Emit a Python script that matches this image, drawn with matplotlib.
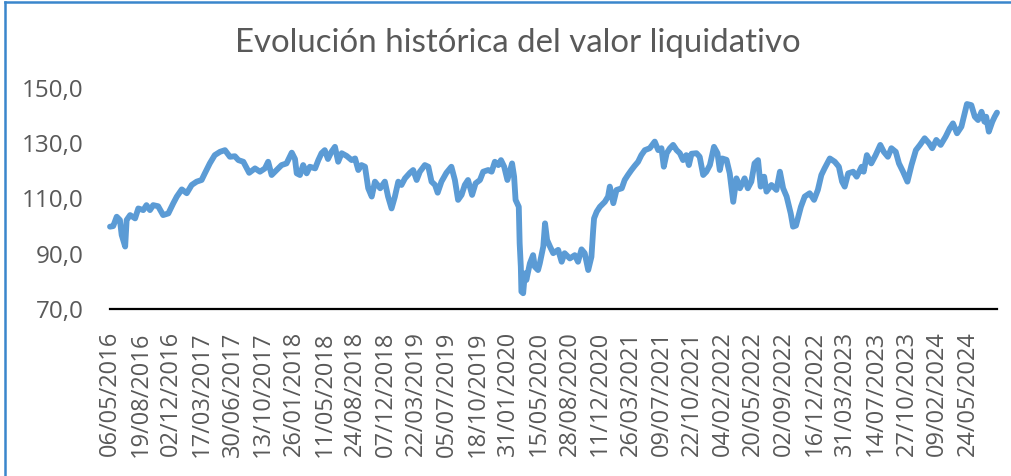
import pandas as pd
import matplotlib
matplotlib.use("Agg")
import matplotlib.pyplot as plt
from matplotlib.lines import Line2D

# -------------------------------
# DATOS
# -------------------------------
inicio = pd.Timestamp("2016-05-06")

# dias desde el 06/05/2016
dias = [
    0, 11, 23, 34, 40, 52, 57, 69, 86, 97, 114, 125, 137, 148, 165, 182, 200, 217, 229, 246,
    263, 280, 297, 314, 325, 342, 359, 377, 394, 411, 428, 440, 457, 477,
    497, 514, 531, 542, 554, 571, 588, 605, 623, 634, 640, 651, 662, 674, 685, 703, 714, 725,
    736, 747, 759, 771, 782, 794, 811, 828, 840, 851, 862, 874, 885, 897, 908, 926, 942, 953,
    965, 976,
    988, 999, 1011, 1028, 1039, 1051, 1062, 1079, 1091, 1102, 1114, 1123, 1136, 1153, 1170,
    1182, 1193, 1205, 1216, 1227, 1241, 1253, 1268, 1279, 1296, 1308, 1319, 1331, 1340, 1351,
    1362, 1370, 1378, 1385, 1390, 1401, 1404, 1408, 1410, 1416, 1422, 1427, 1439, 1450, 1456,
    1467,
    1473, 1485, 1491, 1498, 1508, 1519, 1536, 1548, 1558, 1576, 1593, 1604, 1616, 1627, 1639,
    1650, 1656, 1659, 1668, 1679, 1696, 1707, 1713, 1725, 1736, 1754, 1764, 1775, 1787, 1798,
    1810, 1821, 1833, 1850, 1867, 1879, 1890, 1898, 1908, 1919, 1930, 1942, 1953, 1964, 1975,
    1984,
    1993, 2010, 2021, 2033, 2044, 2056, 2070, 2082, 2090, 2098, 2113, 2124, 2136, 2147, 2159,
    2175, 2186, 2198, 2209, 2221, 2230, 2242, 2250, 2267, 2284, 2296, 2307, 2319, 2333, 2341,
    2351, 2359, 2368, 2381, 2398, 2413, 2426, 2438, 2449, 2467, 2484, 2498, 2509, 2518,
    2530, 2547, 2559, 2576, 2583, 2594, 2609, 2624, 2640, 2652, 2666, 2678, 2693, 2704, 2718,
    2733, 2747, 2762, 2776, 2792, 2807, 2818, 2832, 2847, 2864, 2878, 2889, 2903, 2918, 2929,
    2937, 2952, 2964, 2975, 2987, 2997, 3003, 3012, 3024, 3032, 3040,
]

valor = [
    99.8, 100.0, 103.4, 102.2, 96.8, 92.6, 102.2, 104.0, 102.8, 106.4, 105.8, 107.6, 105.8,
    107.6, 107.2, 104.0, 104.6, 108.3, 110.7, 113.3, 111.9, 114.9, 116.1, 116.7, 119.1, 122.7,
    125.7, 126.9, 127.5, 125.1, 125.3, 123.9, 123.3, 119.3,
    120.9, 119.7, 120.9, 123.3, 118.5, 120.3, 122.1, 122.7, 126.6, 124.3, 119.1, 118.5, 122.1,
    119.1, 121.5, 120.9, 123.9, 126.4, 127.5, 124.3, 126.9, 128.7, 123.3, 126.4, 125.4, 123.9,
    124.5, 120.3, 122.1, 121.5, 113.7, 110.7, 116.1, 113.7, 116.1, 110.7, 106.4, 110.5,
    116.1, 114.9, 117.3, 119.3, 120.3, 116.7, 119.7, 122.1, 121.5, 116.1, 114.9, 112.1, 116.1,
    119.3, 121.5, 116.7, 109.5, 111.3, 114.9, 116.7, 111.3, 115.5, 116.7, 119.7, 120.3, 119.7,
    123.3, 122.1, 123.9, 121.5, 116.7, 119.7, 122.7, 117.9, 109.5, 107.0, 93.8, 85.3, 76.3,
    75.7, 82.9, 80.5, 86.5, 89.5, 85.3, 84.1,
    86.5, 92.6, 101.0, 95.0, 92.6, 90.2, 91.4, 87.1, 90.2, 88.3, 89.5, 87.1, 91.6, 90.2, 84.1,
    88.9, 98.6, 102.8, 105.2, 107.0, 108.8, 110.7, 114.3, 108.3, 113.1, 113.7, 116.7, 118.5,
    120.3, 121.8, 123.3, 125.7, 127.5, 128.2, 130.6, 127.5, 128.2, 121.5, 126.4, 128.2, 129.4,
    127.5, 126.4, 123.9, 125.7, 122.1,
    126.2, 126.4, 125.1, 118.5, 119.7, 122.1, 128.7, 126.4, 120.3, 124.5, 124.0, 119.1, 108.8,
    117.3, 113.7, 117.3, 113.7, 116.1, 122.7, 123.9, 114.3, 117.9, 112.5, 114.9, 113.1, 119.7,
    113.7, 110.7, 104.6, 99.8, 100.2, 103.4, 107.0, 110.7, 111.9, 109.5, 113.1, 118.5, 120.9,
    124.5, 123.3, 121.5, 116.1, 114.3,
    119.1, 119.7, 117.9, 121.5, 119.7, 125.7, 122.7, 125.7, 129.4, 126.9, 125.1, 128.2, 126.9,
    122.7, 119.7, 116.1, 122.1, 127.5, 129.4, 131.8, 130.0, 128.2, 131.2, 129.4, 132.4, 135.4,
    137.2, 133.6, 136.0, 140.8, 144.2, 143.8, 139.6, 138.4, 141.4, 137.8, 139.6, 134.2, 137.8,
    139.6, 141.1,
]

ticks_fecha = pd.date_range(inicio, periods=29, freq="105D")
ticks_y = [70, 90, 110, 130, 150]

fechas = inicio + pd.to_timedelta(dias, unit="D")

# -------------------------------
# GRAFICO
# -------------------------------
gris = "#595959"
fig = plt.figure(figsize=(10.12, 4.76), dpi=100)
W, H = 1012, 476
ax = fig.add_axes([110 / W, 1 - 309 / H, (997 - 110) / W, (309 - 88) / H])

ax.plot(fechas, valor, color="#5B9BD5", lw=4.2,
        solid_joinstyle="round", solid_capstyle="round", clip_on=False)

ax.set_ylim(70, 150)
ax.set_xlim(fechas[0], fechas[-1])
ax.set_yticks(ticks_y)
ax.set_yticklabels([f"{v:.1f}".replace(".", ",") for v in ticks_y],
                   fontsize=17.5, color=gris, family="Open Sans")
ax.set_xticks(ticks_fecha)
ax.set_xticklabels([d.strftime("%d/%m/%Y") for d in ticks_fecha], rotation=90,
                   fontsize=17, color=gris, family="Open Sans")
ax.tick_params(axis="y", length=0, pad=19)
ax.tick_params(axis="x", length=0, pad=16)

for s in ["left", "right", "top"]:
    ax.spines[s].set_visible(False)
ax.spines["bottom"].set_color("black")
ax.spines["bottom"].set_linewidth(1.6)

fig.text(518 / W, 1 - 52 / H, "Evolución histórica del valor liquidativo",
         ha="center", va="baseline", fontsize=23.8, color=gris, family="Lato")

# borde del area del grafico
borde = "#3A86CC"
fig.add_artist(Line2D([5 / W, 5 / W], [0, 1 - 2 / H], transform=fig.transFigure,
                      color=borde, lw=1.8))
fig.add_artist(Line2D([5 / W, 1], [1 - 2 / H, 1 - 2 / H], transform=fig.transFigure,
                      color=borde, lw=1.8))

fig.savefig("out.png", dpi=100, facecolor="white")
